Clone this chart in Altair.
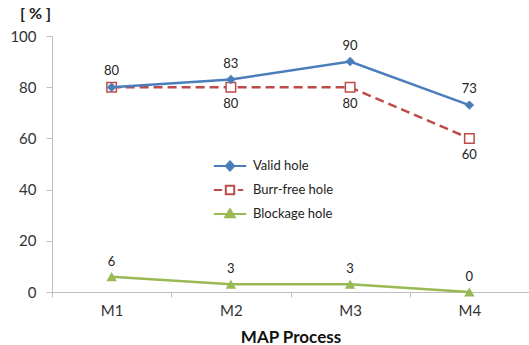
import altair as alt
import pandas as pd

# Hole quality per MAP process step (percent)
processes = ["M1", "M2", "M3", "M4"]
series_names = ["Valid hole", "Burr-free hole", "Blockage hole"]
valid_hole = [80, 83, 90, 73]
burr_free_hole = [80, 80, 80, 60]
blockage_hole = [6, 3, 3, 0]
# The burr-free label at M1 sits on top of the valid-hole label, so it is not shown
burr_free_label_shown = [False, True, True, True]

BLUE = "#4a7ebb"
RED = "#be4b48"
GREEN = "#98b954"
FONT = "Lato"

rows = []
for name, values, shown in [
    ("Valid hole", valid_hole, [True] * 4),
    ("Burr-free hole", burr_free_hole, burr_free_label_shown),
    ("Blockage hole", blockage_hole, [True] * 4),
]:
    for p, v, s in zip(processes, values, shown):
        rows.append({"process": p, "series": name, "value": v, "shown": s})
df = pd.DataFrame(rows)

x_enc = alt.X(
    "process:N",
    sort=processes,
    bandPosition=0.5,
    scale=alt.Scale(type="band", paddingInner=0, paddingOuter=0),
    axis=alt.Axis(
        title="MAP Process",
        titleFont=FONT,
        titleFontSize=17,
        titleFontWeight="bold",
        titleColor="#111",
        titlePadding=11,
        labelFont=FONT,
        labelFontSize=15,
        labelColor="#333",
        labelAngle=0,
        labelPadding=6,
        tickBand="extent",
        tickSize=5,
        tickColor="#bfbfbf",
        domainColor="#bfbfbf",
        grid=False,
    ),
)
y_enc = alt.Y(
    "value:Q",
    scale=alt.Scale(domain=[0, 100], nice=False),
    axis=alt.Axis(
        values=[0, 20, 40, 60, 80, 100],
        title="[ % ]",
        titleAngle=0,
        titleX=-17,
        titleY=-15,
        titleAlign="center",
        titleFont=FONT,
        titleFontSize=16,
        titleFontWeight="bold",
        titleColor="#222",
        labelFont=FONT,
        labelFontSize=15,
        labelColor="#333",
        labelPadding=10,
        tickSize=6,
        tickColor="#bfbfbf",
        domainColor="#bfbfbf",
        grid=False,
    ),
)

base = alt.Chart(df).encode(x=x_enc, y=y_enc)


def only(name):
    return base.transform_filter(alt.datum.series == name)


burr_line = only("Burr-free hole").mark_line(color=RED, strokeWidth=2.5, strokeDash=[9, 5])
burr_pts = only("Burr-free hole").mark_point(
    shape="square", filled=True, fill="white", stroke=RED, strokeWidth=1.5, size=90, opacity=1
)
valid_line = only("Valid hole").mark_line(color=BLUE, strokeWidth=2.5)
valid_pts = only("Valid hole").mark_point(
    shape="diamond", filled=True, color=BLUE, size=90, opacity=1
)
block_line = only("Blockage hole").mark_line(color=GREEN, strokeWidth=2.5)
block_pts = only("Blockage hole").mark_point(
    shape="triangle-up", filled=True, color=GREEN, size=110, opacity=1
)

label_style = dict(font=FONT, fontSize=13, color="#222")
valid_text = only("Valid hole").mark_text(dy=-16, **label_style).encode(text="value:Q")
burr_text = (
    only("Burr-free hole")
    .transform_filter(alt.datum.shown)
    .mark_text(dy=17, **label_style)
    .encode(text="value:Q")
)
block_text = only("Blockage hole").mark_text(dy=-15, **label_style).encode(text="value:Q")

# Legend symbols: a line segment with the series marker in its middle
legend_paths = [
    "M-2.7,0H2.7M0,-0.75L0.7,0L0,0.75L-0.7,0Z",
    "M-2.7,0H-1.3M1.3,0H2.2M-0.7,-0.7H0.7V0.7H-0.7Z",
    "M-2.7,0H2.7M0,-0.8L0.8,0.55H-0.8Z",
]
legend_cfg = alt.Legend(
    title=None,
    orient="none",
    legendX=171,
    legendY=123,
    labelFont=FONT,
    labelFontSize=13,
    labelColor="#222",
    labelOffset=16,
    rowPadding=6,
    symbolSize=144,
    symbolStrokeWidth=2,
)
legend_layer = (
    alt.Chart(df)
    .transform_filter("false")
    .mark_point(filled=True, opacity=1)
    .encode(
        x=x_enc,
        y=y_enc,
        fill=alt.Fill(
            "series:N",
            scale=alt.Scale(domain=series_names, range=[BLUE, "white", GREEN]),
            legend=legend_cfg,
        ),
        stroke=alt.Stroke(
            "series:N",
            scale=alt.Scale(domain=series_names, range=[BLUE, RED, GREEN]),
            legend=legend_cfg,
        ),
        shape=alt.Shape(
            "series:N",
            scale=alt.Scale(domain=series_names, range=legend_paths),
            legend=legend_cfg,
        ),
    )
)

chart = (
    alt.layer(
        burr_line,
        burr_pts,
        valid_line,
        valid_pts,
        block_line,
        block_pts,
        valid_text,
        burr_text,
        block_text,
        legend_layer,
    )
    .properties(
        width=477,
        height=256,
        padding={"left": 52, "top": 36, "right": 0, "bottom": 53},
        autosize=alt.AutoSizeParams(type="none"),
        background="white",
    )
    .configure_view(stroke=None)
)

chart.save("out.html", embed_options={"renderer": "svg", "actions": False})
